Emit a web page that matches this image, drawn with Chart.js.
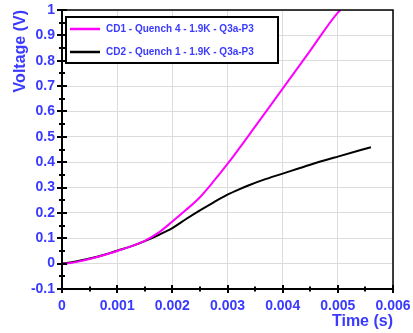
<!DOCTYPE html>
<html>
<head>
<meta charset="utf-8">
<script src="https://cdn.jsdelivr.net/npm/chart.js@4/dist/chart.umd.min.js"></script>
<style>
  html, body { margin: 0; padding: 0; background: #fff; }
  #wrap { width: 413px; height: 333px; }
</style>
</head>
<body>
<div id="wrap"><canvas id="myChart" width="413" height="333"></canvas></div>
<script>
// CD1 - Quench 4
const cd1Time = [0, 0.00025, 0.0005, 0.00075, 0.001, 0.00125, 0.0015, 0.00175, 0.002, 0.00225, 0.0025, 0.00275, 0.003, 0.0035, 0.004, 0.0045, 0.005, 0.00505]
const cd1Volt = [-0.002, 0.006, 0.018, 0.033, 0.05, 0.068, 0.09, 0.122, 0.166, 0.212, 0.262, 0.325, 0.393, 0.54, 0.69, 0.84, 0.99, 1.0]
// CD2 - Quench 1
const cd2Time = [0, 0.00025, 0.0005, 0.00075, 0.001, 0.00125, 0.0015, 0.00175, 0.002, 0.00225, 0.0025, 0.00275, 0.003, 0.0032, 0.0034, 0.0037, 0.004, 0.0045, 0.005, 0.0056]
const cd2Volt = [0, 0.008, 0.02, 0.034, 0.051, 0.068, 0.089, 0.113, 0.14, 0.176, 0.21, 0.242, 0.272, 0.292, 0.31, 0.334, 0.355, 0.39, 0.422, 0.459]

const seriesLabels = ["CD1 - Quench 4 - 1.9K - Q3a-P3", "CD2 - Quench 1 - 1.9K - Q3a-P3"]
const seriesColors = ["#ff00ff", "#000000"]

const xMin = 0, xMax = 0.006, xStep = 0.0005
const yMin = -0.1, yMax = 1, yStep = 0.05

const blue = "#3a3aff"
const family = "'Liberation Sans', Arial, sans-serif"

function pairs(xs, ys) {
    return xs.map((x, i) => ({ x: x, y: ys[i] }));
}

function isMajorX(v) { return Math.abs(Math.round(v * 1000) - v * 1000) < 1e-6; }
function isMajorY(v) { return Math.abs(Math.round(v * 10) - v * 10) < 1e-6; }

// tick marks crossing the axis lines, plus top/right frame
const axisDecor = {
    id: "axisDecor",
    afterDraw(chart) {
        const { ctx, chartArea: a, scales } = chart;
        ctx.save();
        ctx.strokeStyle = "#000";
        ctx.lineWidth = 1.5;
        ctx.beginPath();
        ctx.moveTo(a.left, a.top);
        ctx.lineTo(a.right, a.top);
        ctx.lineTo(a.right, a.bottom);
        ctx.stroke();

        ctx.lineWidth = 2;
        ctx.beginPath();
        scales.x.ticks.forEach(t => {
            const px = Math.round(scales.x.getPixelForValue(t.value));
            const len = isMajorX(t.value) ? 4 : 2.5;
            ctx.moveTo(px, a.bottom - len);
            ctx.lineTo(px, a.bottom + len);
        });
        scales.y.ticks.forEach(t => {
            const py = Math.round(scales.y.getPixelForValue(t.value));
            const len = isMajorY(t.value) ? 5 : 3;
            ctx.moveTo(a.left - len, py);
            ctx.lineTo(a.left + len, py);
        });
        ctx.stroke();
        ctx.restore();
    }
}

// boxed legend in the top-left corner of the plot
const boxLegend = {
    id: "boxLegend",
    afterDraw(chart) {
        const { ctx, chartArea: a } = chart;
        const left = a.left + 4, top = a.top + 7, w = 212, h = 46;
        ctx.save();
        ctx.fillStyle = "#fff";
        ctx.fillRect(left, top, w, h);
        ctx.strokeStyle = "#000";
        ctx.lineWidth = 2;
        ctx.strokeRect(left, top, w, h);
        ctx.font = "bold 10px " + family;
        ctx.textBaseline = "middle";
        chart.data.datasets.forEach((ds, i) => {
            const y = top + 12 + i * 23;
            ctx.strokeStyle = ds.borderColor;
            ctx.lineWidth = 2.5;
            ctx.beginPath();
            ctx.moveTo(left + 4, y);
            ctx.lineTo(left + 34, y);
            ctx.stroke();
            ctx.fillStyle = blue;
            ctx.fillText(ds.label, left + 40, y);
        });
        ctx.restore();
    }
}

const data = {
    datasets: [
        { label: seriesLabels[0], data: pairs(cd1Time, cd1Volt), borderColor: seriesColors[0], backgroundColor: seriesColors[0] },
        { label: seriesLabels[1], data: pairs(cd2Time, cd2Volt), borderColor: seriesColors[1], backgroundColor: seriesColors[1] }
    ]
}

const options = {
    responsive: false,
    animation: false,
    layout: { padding: { top: 10, right: 20, left: 0, bottom: 0 } },
    elements: {
        point: { radius: 0 },
        line: { borderWidth: 2, cubicInterpolationMode: "monotone" }
    },
    plugins: {
        legend: { display: false },
        tooltip: { enabled: false }
    },
    scales: {
        x: {
            type: "linear",
            min: xMin,
            max: xMax,
            afterFit: s => {
                s.height = 44;
                s.paddingLeft = 0;
                s.paddingRight = 0;
            },
            border: { color: "#000", width: 2 },
            grid: {
                drawTicks: false,
                color: c => isMajorX(c.tick.value) ? "#dcdcdc" : "rgba(0,0,0,0)"
            },
            ticks: {
                stepSize: xStep,
                autoSkip: false,
                maxRotation: 0,
                padding: 9,
                color: blue,
                font: { family: family, size: 14, weight: "bold" },
                callback: v => isMajorX(v) ? String(Number(v.toFixed(3))) : ""
            },
            title: {
                display: true,
                text: "Time (s)",
                align: "end",
                color: blue,
                font: { family: family, size: 16, weight: "bold" },
                padding: { top: 0, bottom: 2 }
            }
        },
        y: {
            min: yMin,
            max: yMax,
            afterFit: s => {
                s.width = 62;
                s.paddingTop = 0;
                s.paddingBottom = 0;
            },
            border: { color: "#000", width: 2 },
            grid: {
                drawTicks: false,
                color: c => isMajorY(c.tick.value) ? "#dcdcdc" : "rgba(0,0,0,0)"
            },
            ticks: {
                stepSize: yStep,
                autoSkip: false,
                padding: 7,
                color: blue,
                font: { family: family, size: 14, weight: "bold" },
                callback: v => isMajorY(v) ? String(Number(v.toFixed(1))) : ""
            },
            title: {
                display: true,
                text: "Voltage (V)",
                align: "end",
                color: blue,
                font: { family: family, size: 16, weight: "bold" },
                padding: { top: 11, bottom: 0 }
            }
        }
    }
}

const ctx = document.getElementById("myChart").getContext("2d");
new Chart(ctx, { type: "line", data: data, options: options, plugins: [axisDecor, boxLegend] });
</script>
</body>
</html>
